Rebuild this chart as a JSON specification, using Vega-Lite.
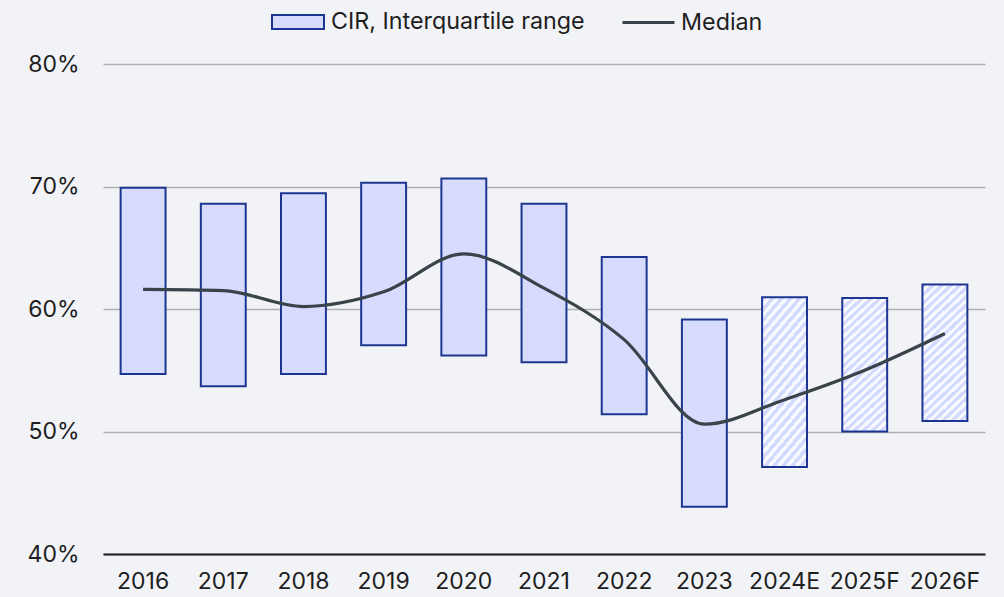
{
  "$schema": "https://vega.github.io/schema/vega-lite/v6.json",
  "width": 882,
  "height": 490,
  "autosize": "none",
  "padding": {"left": 103, "top": 64, "right": 19, "bottom": 43},
  "background": "#f2f3f7",
  "config": {
    "view": {"stroke": null},
    "font": "Inter",
    "axis": {"labelFont": "Inter", "labelFontSize": 23, "labelColor": "#1e1e1e", "title": null},
    "legend": {"labelFont": "Inter", "labelFontSize": 23.3, "labelColor": "#1e1e1e", "labelLimit": 500, "padding": 0}
  },
  "data": {
    "values": [
      {"year": "2016", "kind": "actual", "q1": 54.7, "q3": 69.9, "median": 61.6},
      {"year": "2017", "kind": "actual", "q1": 53.7, "q3": 68.6, "median": 61.5},
      {"year": "2018", "kind": "actual", "q1": 54.7, "q3": 69.45, "median": 60.2},
      {"year": "2019", "kind": "actual", "q1": 57.05, "q3": 70.3, "median": 61.4},
      {"year": "2020", "kind": "actual", "q1": 56.2, "q3": 70.65, "median": 64.5},
      {"year": "2021", "kind": "actual", "q1": 55.65, "q3": 68.6, "median": 61.7},
      {"year": "2022", "kind": "actual", "q1": 51.4, "q3": 64.25, "median": 57.5},
      {"year": "2023", "kind": "actual", "q1": 43.85, "q3": 59.15, "median": 50.6},
      {"year": "2024E", "kind": "forecast", "q1": 47.1, "q3": 60.95, "median": 52.6},
      {"year": "2025F", "kind": "forecast", "q1": 50.0, "q3": 60.9, "median": 55.0},
      {"year": "2026F", "kind": "forecast", "q1": 50.85, "q3": 62.0, "median": 58.0}
    ]
  },
  "encoding": {
    "x": {
      "field": "year",
      "type": "ordinal",
      "sort": null,
      "scale": {"paddingInner": 0.44, "paddingOuter": 0.22},
      "axis": {"labelAngle": 0, "domain": true, "domainColor": "#1e1e1e", "domainWidth": 2, "ticks": false, "labelPadding": 16, "grid": false}
    }
  },
  "layer": [
    {
      "transform": [{"filter": "datum.kind === 'actual'"}],
      "mark": {"type": "bar", "stroke": "#1c3590", "strokeWidth": 2},
      "encoding": {
        "y": {
          "field": "q1",
          "type": "quantitative",
          "scale": {"domain": [40, 80], "zero": false, "nice": false},
          "axis": {"values": [40, 50, 60, 70, 80], "labelExpr": "datum.value + '%'", "domain": false, "ticks": false, "labelPadding": 24, "grid": true, "gridColor": "#b0b0b0", "gridWidth": 1.3}
        },
        "y2": {"field": "q3"},
        "fill": {
          "datum": "CIR, Interquartile range",
          "scale": {"domain": ["CIR, Interquartile range"], "range": ["#d7dcff"]},
          "legend": {
            "orient": "none",
            "legendX": 168,
            "legendY": -69,
            "direction": "horizontal",
            "title": null,
            "labelOffset": 6,
            "symbolSize": 2704,
            "symbolType": "M-1,-0.27H1V0.27H-1Z",
            "symbolStrokeColor": "#1c3590",
            "symbolStrokeWidth": 2,
            "symbolOpacity": 1
          }
        }
      }
    },
    {
      "transform": [{"filter": "datum.kind === 'forecast'"}],
      "mark": {
        "type": "bar",
        "stroke": "#1c3590",
        "strokeWidth": 2,
        "fill": {
          "gradient": "linear",
          "x1": 0, "y1": 0, "x2": 0.371, "y2": 1.195,
          "stops": [
            {"offset": 0, "color": "#d3daff"}, {"offset": 0.02381, "color": "#d3daff"}, {"offset": 0.02381, "color": "#f8f9fe"}, {"offset": 0.04762, "color": "#f8f9fe"},
            {"offset": 0.04762, "color": "#d3daff"}, {"offset": 0.07143, "color": "#d3daff"}, {"offset": 0.07143, "color": "#f8f9fe"}, {"offset": 0.09524, "color": "#f8f9fe"},
            {"offset": 0.09524, "color": "#d3daff"}, {"offset": 0.11905, "color": "#d3daff"}, {"offset": 0.11905, "color": "#f8f9fe"}, {"offset": 0.14286, "color": "#f8f9fe"},
            {"offset": 0.14286, "color": "#d3daff"}, {"offset": 0.16667, "color": "#d3daff"}, {"offset": 0.16667, "color": "#f8f9fe"}, {"offset": 0.19048, "color": "#f8f9fe"},
            {"offset": 0.19048, "color": "#d3daff"}, {"offset": 0.21429, "color": "#d3daff"}, {"offset": 0.21429, "color": "#f8f9fe"}, {"offset": 0.2381, "color": "#f8f9fe"},
            {"offset": 0.2381, "color": "#d3daff"}, {"offset": 0.2619, "color": "#d3daff"}, {"offset": 0.2619, "color": "#f8f9fe"}, {"offset": 0.28571, "color": "#f8f9fe"},
            {"offset": 0.28571, "color": "#d3daff"}, {"offset": 0.30952, "color": "#d3daff"}, {"offset": 0.30952, "color": "#f8f9fe"}, {"offset": 0.33333, "color": "#f8f9fe"},
            {"offset": 0.33333, "color": "#d3daff"}, {"offset": 0.35714, "color": "#d3daff"}, {"offset": 0.35714, "color": "#f8f9fe"}, {"offset": 0.38095, "color": "#f8f9fe"},
            {"offset": 0.38095, "color": "#d3daff"}, {"offset": 0.40476, "color": "#d3daff"}, {"offset": 0.40476, "color": "#f8f9fe"}, {"offset": 0.42857, "color": "#f8f9fe"},
            {"offset": 0.42857, "color": "#d3daff"}, {"offset": 0.45238, "color": "#d3daff"}, {"offset": 0.45238, "color": "#f8f9fe"}, {"offset": 0.47619, "color": "#f8f9fe"},
            {"offset": 0.47619, "color": "#d3daff"}, {"offset": 0.5, "color": "#d3daff"}, {"offset": 0.5, "color": "#f8f9fe"}, {"offset": 0.52381, "color": "#f8f9fe"},
            {"offset": 0.52381, "color": "#d3daff"}, {"offset": 0.54762, "color": "#d3daff"}, {"offset": 0.54762, "color": "#f8f9fe"}, {"offset": 0.57143, "color": "#f8f9fe"},
            {"offset": 0.57143, "color": "#d3daff"}, {"offset": 0.59524, "color": "#d3daff"}, {"offset": 0.59524, "color": "#f8f9fe"}, {"offset": 0.61905, "color": "#f8f9fe"},
            {"offset": 0.61905, "color": "#d3daff"}, {"offset": 0.64286, "color": "#d3daff"}, {"offset": 0.64286, "color": "#f8f9fe"}, {"offset": 0.66667, "color": "#f8f9fe"},
            {"offset": 0.66667, "color": "#d3daff"}, {"offset": 0.69048, "color": "#d3daff"}, {"offset": 0.69048, "color": "#f8f9fe"}, {"offset": 0.71429, "color": "#f8f9fe"},
            {"offset": 0.71429, "color": "#d3daff"}, {"offset": 0.7381, "color": "#d3daff"}, {"offset": 0.7381, "color": "#f8f9fe"}, {"offset": 0.7619, "color": "#f8f9fe"},
            {"offset": 0.7619, "color": "#d3daff"}, {"offset": 0.78571, "color": "#d3daff"}, {"offset": 0.78571, "color": "#f8f9fe"}, {"offset": 0.80952, "color": "#f8f9fe"},
            {"offset": 0.80952, "color": "#d3daff"}, {"offset": 0.83333, "color": "#d3daff"}, {"offset": 0.83333, "color": "#f8f9fe"}, {"offset": 0.85714, "color": "#f8f9fe"},
            {"offset": 0.85714, "color": "#d3daff"}, {"offset": 0.88095, "color": "#d3daff"}, {"offset": 0.88095, "color": "#f8f9fe"}, {"offset": 0.90476, "color": "#f8f9fe"},
            {"offset": 0.90476, "color": "#d3daff"}, {"offset": 0.92857, "color": "#d3daff"}, {"offset": 0.92857, "color": "#f8f9fe"}, {"offset": 0.95238, "color": "#f8f9fe"},
            {"offset": 0.95238, "color": "#d3daff"}, {"offset": 0.97619, "color": "#d3daff"}, {"offset": 0.97619, "color": "#f8f9fe"}, {"offset": 1, "color": "#f8f9fe"}
          ]
        }
      },
      "encoding": {
        "y": {"field": "q1", "type": "quantitative"},
        "y2": {"field": "q3"}
      }
    },
    {
      "mark": {"type": "line", "interpolate": "monotone", "strokeWidth": 3.2},
      "encoding": {
        "y": {"field": "median", "type": "quantitative"},
        "stroke": {
          "datum": "Median",
          "scale": {"domain": ["Median"], "range": ["#39434a"]},
          "legend": {
            "orient": "none",
            "legendX": 518,
            "legendY": -69,
            "direction": "horizontal",
            "title": null,
            "labelOffset": 5,
            "symbolSize": 2704,
            "symbolType": "stroke",
            "symbolStrokeWidth": 3,
            "symbolOpacity": 1
          }
        }
      }
    }
  ]
}
